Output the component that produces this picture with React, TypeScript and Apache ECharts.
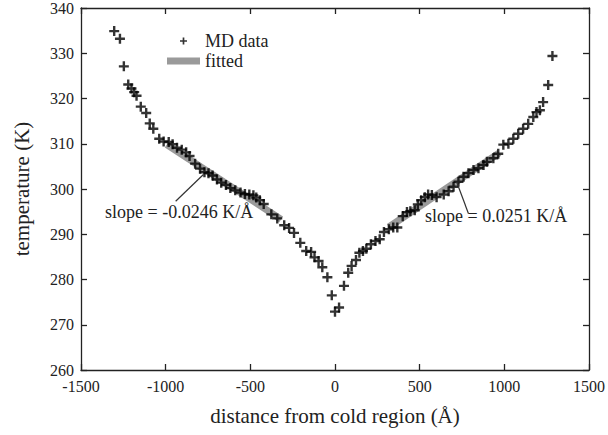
import React, { useEffect, useRef } from "react";
import * as echarts from "echarts";

// MD data: distance from cold region (Å) and temperature (K)
const mdDistance = [
  -1304, -1270, -1247, -1221, -1202, -1186, -1172, -1147, -1115, -1094,
  -1073, -1038, -1012, -982, -959, -933, -905, -879, -859, -826,
  -797, -771, -747, -723, -697, -672, -644, -618, -589, -558,
  -532, -506, -482, -465, -444, -421, -376, -341, -300, -271,
  -242, -205, -170, -141, -121, -97, -75, -45, -19, 0,
  24, 53, 78, 98, 124, 144, 165, 185, 212, 239,
  264, 289, 318, 344, 368, 400, 425, 445, 471, 489,
  509, 530, 550, 572, 600, 642, 671, 700, 729, 759,
  788, 818, 847, 877, 897, 935, 964, 994, 1024, 1053,
  1082, 1111, 1141, 1171, 1190, 1210, 1229, 1259, 1284,
];
const mdTemperature = [
  334.9, 333.2, 327.1, 323.1, 322.2, 321.4, 320.6, 318.2, 316.8, 314.5,
  313.3, 311.1, 310.5, 310.4, 309.9, 309.1, 308.7, 308.1, 307.3, 305.6,
  304.5, 303.7, 303.5, 303.0, 302.1, 301.4, 300.9, 300.2, 299.7, 299.2,
  298.9, 298.8, 298.6, 298.1, 297.5, 296.7, 294.4, 293.5, 292.0, 291.4,
  290.3, 288.1, 286.3, 286.1, 284.9, 284.1, 282.7, 280.5, 276.5, 272.9,
  273.8, 278.6, 281.5, 283.0, 284.3, 285.9, 286.3, 286.8, 287.8, 288.5,
  288.9, 290.5, 291.1, 291.5, 291.5, 294.0, 294.9, 295.1, 295.3, 296.6,
  297.5, 298.2, 298.8, 298.7, 298.2, 298.8, 299.5, 300.5, 301.6, 302.7,
  303.5, 304.2, 304.6, 305.3, 306.0, 306.8, 307.8, 309.8, 310.0, 311.1,
  312.2, 313.3, 314.4, 315.9, 317.0, 317.4, 319.2, 323.0, 329.4,
];

// fitted lines (end points)
const fitLeftX = [-994, -318];
const fitLeftY = [309.8, 293.3];
const fitRightX = [318, 970];
const fitRightY = [291.6, 308.0];

// annotation pointer lines
const pointerLeftX = [-941, -777];
const pointerLeftY = [297.3, 303.2];
const pointerRightX = [718, 788];
const pointerRightY = [301.6, 294.6];

const slopeLeftLabel = "slope = -0.0246 K/Å";
const slopeRightLabel = "slope = 0.0251 K/Å";

const xTicks = { min: -1500, max: 1500, interval: 500 };
const yTicks = { min: 260, max: 340, interval: 10 };

const FONT = "Liberation Serif";
const INK = "#222";
const PLUS = "path://M3.8,0H6.2V3.8H10V6.2H6.2V10H3.8V6.2H0V3.8H3.8Z";

const zip = (xs: number[], ys: number[]) => xs.map((x, i) => [x, ys[i]]);
const plain = (v: number) => String(v);

export default function App() {
  const ref = useRef<HTMLDivElement>(null);
  useEffect(() => {
    document.body.style.margin = "0";
    if (!ref.current) return;
    const chart = echarts.init(ref.current, null, { renderer: "svg" });
    const axisLine = { show: true, onZero: false, lineStyle: { color: INK, width: 1.3 } };
    const axisTick = { show: true, inside: true, length: 6, lineStyle: { color: INK, width: 1.3 } };
    chart.setOption({
      animation: false,
      backgroundColor: "#fff",
      textStyle: { fontFamily: FONT },
      grid: { left: 81, right: 17, top: 5, bottom: 65, containLabel: false },
      legend: {
        orient: "vertical",
        left: 162,
        top: 27,
        itemWidth: 33,
        itemHeight: 7,
        itemGap: 2,
        itemTextGap: 9,
        selectedMode: false,
        textStyle: { fontFamily: FONT, fontSize: 18, color: INK },
        data: [
          { name: "MD data", icon: PLUS },
          { name: "fitted", icon: "rect" },
        ],
      },
      xAxis: [
        {
          type: "value",
          position: "bottom",
          ...xTicks,
          axisLine,
          axisTick,
          splitLine: { show: false },
          axisLabel: { fontFamily: FONT, fontSize: 16, color: INK, margin: 8, formatter: plain },
          name: "distance from cold region (Å)",
          nameLocation: "middle",
          nameGap: 35,
          nameTextStyle: { fontFamily: FONT, fontSize: 21, color: INK },
        },
        {
          type: "value",
          position: "top",
          ...xTicks,
          axisLine,
          axisTick,
          splitLine: { show: false },
          axisLabel: { show: false },
        },
      ],
      yAxis: [
        {
          type: "value",
          position: "left",
          ...yTicks,
          axisLine,
          axisTick,
          splitLine: { show: false },
          axisLabel: { fontFamily: FONT, fontSize: 16, color: INK, margin: 7, formatter: plain },
          name: "temperature (K)",
          nameLocation: "middle",
          nameGap: 49,
          nameTextStyle: { fontFamily: FONT, fontSize: 21, color: INK },
        },
        {
          type: "value",
          position: "right",
          ...yTicks,
          axisLine,
          axisTick,
          splitLine: { show: false },
          axisLabel: { show: false },
        },
      ],
      series: [
        {
          name: "fitted",
          type: "line",
          data: zip(fitLeftX, fitLeftY),
          showSymbol: false,
          lineStyle: { width: 7, color: "#9a9a9a" },
          itemStyle: { color: "#9a9a9a" },
          z: 2,
          silent: true,
        },
        {
          name: "fitted",
          type: "line",
          data: zip(fitRightX, fitRightY),
          showSymbol: false,
          lineStyle: { width: 7, color: "#9a9a9a" },
          itemStyle: { color: "#9a9a9a" },
          z: 2,
          silent: true,
        },
        {
          name: "MD data",
          type: "scatter",
          data: zip(mdDistance, mdTemperature),
          symbol: PLUS,
          symbolSize: 10,
          itemStyle: { color: "#000" },
          z: 3,
        },
        {
          name: "pointerLeft",
          type: "line",
          data: zip(pointerLeftX, pointerLeftY),
          showSymbol: false,
          lineStyle: { width: 1.2, color: "#333" },
          z: 4,
          silent: true,
        },
        {
          name: "pointerRight",
          type: "line",
          data: zip(pointerRightX, pointerRightY),
          showSymbol: false,
          lineStyle: { width: 1.2, color: "#333" },
          z: 4,
          silent: true,
        },
      ],
      graphic: [
        {
          type: "text",
          left: 105,
          top: 203,
          z: 10,
          style: { text: slopeLeftLabel, fontFamily: FONT, fontSize: 18, fill: INK },
        },
        {
          type: "text",
          left: 425,
          top: 207,
          z: 10,
          style: { text: slopeRightLabel, fontFamily: FONT, fontSize: 18, fill: INK },
        },
      ],
    });
    return () => chart.dispose();
  }, []);
  return <div ref={ref} style={{ width: 608, height: 435 }} />;
}
